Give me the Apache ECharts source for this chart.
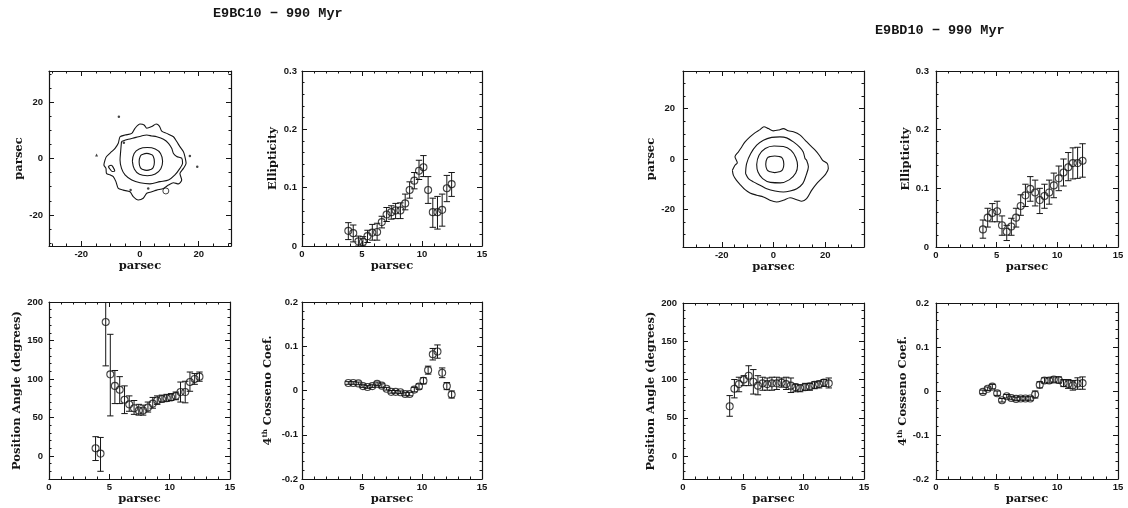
<!DOCTYPE html>
<html><head><meta charset="utf-8">
<script src="https://cdn.jsdelivr.net/npm/echarts@6/dist/echarts.min.js"></script>
<style>html,body{margin:0;padding:0;background:#fff}#c{width:1128px;height:508px}</style>
</head><body><div id="c"></div>
<script>
// ---------------- titles ----------------
const titleL = 'E9BC10 \u2212 990 Myr';
const titleR = 'E9BD10 \u2212 990 Myr';

// ---------------- tick labels ----------------
const contourTicks = [-20, 0, 20];
const radiusTicks = [0, 5, 10, 15];
const ellTicks = [0, 0.1, 0.2, 0.3];
const paTicks = [0, 50, 100, 150, 200];
const cosTicks = [-0.2, -0.1, 0, 0.1, 0.2];

// ---------------- isophote radii (parsec) ----------------
const radiusL = [3.86,4.27,4.70,5.08,5.46,5.86,6.26,6.65,7.05,7.44,7.80,8.20,8.60,8.97,9.36,9.75,10.12,10.51,10.90,11.29,11.68,12.07,12.47];
const radiusR = [3.87,4.26,4.64,5.04,5.44,5.83,6.21,6.60,6.98,7.37,7.77,8.17,8.55,8.94,9.33,9.71,10.12,10.51,10.90,11.28,11.67,12.08];

// ---------------- E9BC10 ----------------
const ellL = [0.026,0.022,0.008,0.007,0.017,0.023,0.024,0.041,0.054,0.058,0.061,0.061,0.073,0.096,0.112,0.129,0.135,0.096,0.058,0.058,0.062,0.099,0.106];
const ellLHi = [0.040,0.036,0.017,0.016,0.027,0.037,0.039,0.051,0.066,0.069,0.073,0.074,0.089,0.110,0.126,0.147,0.155,0.119,0.082,0.085,0.089,0.121,0.126];
const ellLLo = [0.011,0.007,0.000,0.000,0.006,0.010,0.010,0.031,0.042,0.046,0.047,0.047,0.062,0.082,0.098,0.114,0.119,0.073,0.032,0.029,0.034,0.076,0.085];

const paL = [10,3,174,106,91,86,73,67,62,59,59,63,68,72,74,75,76,78,83,83,96,100,103];
const paLHi = [25,24,231,158,111,103,91,78,72,67,66,70,76,78,79,80,81,83,96,97,109,107,109];
const paLLo = [-6,-20,117,52,68,68,55,58,54,53,53,57,62,67,70,71,72,73,70,69,84,93,97];

const cosL = [0.017,0.017,0.016,0.010,0.008,0.010,0.015,0.011,0.004,-0.003,-0.003,-0.004,-0.008,-0.008,0.002,0.009,0.022,0.046,0.082,0.088,0.040,0.010,-0.009];
const cosLErr = [0.003,0.003,0.003,0.003,0.003,0.003,0.004,0.004,0.003,0.003,0.003,0.003,0.004,0.004,0.005,0.006,0.007,0.009,0.013,0.015,0.011,0.008,0.008];

// ---------------- E9BD10 ----------------
const ellR = [0.030,0.050,0.058,0.061,0.037,0.026,0.035,0.050,0.070,0.088,0.099,0.093,0.080,0.087,0.093,0.105,0.117,0.127,0.136,0.143,0.143,0.147];
const ellRHi = [0.046,0.066,0.074,0.078,0.053,0.037,0.049,0.066,0.089,0.107,0.120,0.114,0.100,0.107,0.114,0.126,0.138,0.150,0.161,0.169,0.170,0.176];
const ellRLo = [0.015,0.034,0.043,0.043,0.020,0.011,0.020,0.034,0.054,0.069,0.078,0.070,0.057,0.066,0.073,0.084,0.096,0.104,0.113,0.116,0.117,0.119];

const paR = [65,88,94,100,105,97,92,95,94,95,95,96,94,92,90,89,90,91,93,94,96,95];
const paRHi = [79,100,103,105,118,113,105,103,102,103,103,102,103,102,94,93,95,95,97,98,100,102];
const paRLo = [52,76,84,92,92,81,80,86,86,86,87,90,87,83,84,84,86,86,88,89,91,89];

const cosR = [-0.002,0.005,0.010,-0.005,-0.021,-0.012,-0.016,-0.018,-0.017,-0.017,-0.017,-0.008,0.014,0.024,0.024,0.026,0.025,0.018,0.016,0.013,0.017,0.018];
const cosRErr = [0.004,0.004,0.005,0.005,0.004,0.004,0.004,0.004,0.004,0.004,0.004,0.008,0.007,0.006,0.006,0.006,0.007,0.008,0.010,0.011,0.013,0.014];

// ---------------- contours (parsec) ----------------
const contourL1 = [[-0.3,-1.2],[0.1,0.8],[1.0,1.5],[2.3,1.8],[3.6,1.5],[4.5,0.8],[4.9,-1.2],[4.5,-3.2],[3.6,-3.9],[2.3,-4.2],[1.0,-3.9],[0.1,-3.2],[-0.3,-1.2]];
const contourL2 = [[-2.6,-1.0],[-2.0,1.8],[-0.3,3.4],[2.5,3.9],[5.2,3.4],[7.0,1.8],[7.7,-1.0],[7.1,-3.6],[5.2,-5.5],[2.5,-6.1],[-0.2,-5.6],[-1.9,-3.8],[-2.6,-1.0]];
const contourL3 = [[-6.3,6.0],[-4.0,6.8],[-1.7,7.4],[0.5,8.0],[2.3,8.3],[4.0,8.0],[5.7,7.7],[8.0,6.8],[9.7,5.4],[10.8,3.6],[11.4,1.8],[12.5,0.7],[14.2,0.1],[14.5,-1.7],[13.6,-3.5],[11.9,-5.8],[9.7,-7.6],[6.8,-8.2],[3.4,-9.0],[0.0,-8.6],[-2.8,-7.6],[-5.1,-5.8],[-6.3,-3.5],[-6.8,-0.5],[-6.6,2.4],[-6.3,6.0]];
const contourL4 = [[-11.9,-0.5],[-11.4,0.7],[-9.7,2.4],[-8.5,3.6],[-7.4,5.4],[-6.8,7.7],[-5.1,8.3],[-2.8,8.9],[-1.7,10.7],[0.0,12.2],[1.4,11.9],[2.3,10.7],[4.0,11.3],[5.5,12.2],[6.6,11.5],[7.4,9.7],[9.1,8.9],[11.4,7.7],[12.5,6.0],[13.6,4.2],[14.8,2.4],[15.3,0.7],[15.7,-1.7],[14.8,-3.5],[13.6,-5.3],[14.2,-7.6],[13.1,-9.0],[11.4,-8.6],[9.7,-9.4],[8.0,-10.6],[5.7,-11.2],[4.0,-11.8],[2.3,-12.3],[1.1,-14.1],[-0.6,-14.7],[-2.3,-13.5],[-3.4,-11.8],[-5.7,-11.2],[-7.4,-10.6],[-8.2,-8.2],[-9.1,-6.4],[-10.2,-5.8],[-11.4,-5.3],[-11.6,-3.5],[-12.3,-2.3],[-11.9,-0.5]];
const contourL5 = [[-10.8,-2.8],[-9.8,-2.4],[-9.0,-3.4],[-8.6,-4.4],[-9.4,-4.6],[-10.2,-3.8],[-10.8,-2.8]];
const blobsL = [[17.0,0.9],[19.5,-2.9],[-5.5,5.6],[2.8,-10.6],[-3.2,-11.2],[-7.2,14.8]];
const knotL = [[8.8,-11.5]];
const starL = [[-14.8,1.2]];

const contourR1 = [[-3.0,-2.1],[-2.5,0.2],[-1.2,1.0],[0.5,1.2],[2.2,1.0],[3.5,0.2],[4.0,-2.1],[3.5,-4.3],[2.2,-5.1],[0.5,-5.4],[-1.2,-5.1],[-2.5,-4.3],[-3.0,-2.1]];
const contourR2 = [[-6.5,-2.2],[-5.6,1.5],[-3.2,4.2],[0.2,5.2],[3.8,5.0],[6.8,3.4],[8.7,0.3],[9.3,-2.6],[8.6,-5.6],[6.2,-8.2],[2.6,-9.5],[-1.2,-9.3],[-4.2,-7.8],[-6.0,-5.2],[-6.5,-2.2]];
const contourR3 = [[-10.8,-5.8],[-10.4,-1.8],[-8.8,2.2],[-6.5,5.5],[-3.9,7.5],[-0.7,8.6],[2.5,8.8],[5.1,8.4],[7.7,6.8],[10.0,4.8],[11.5,2.8],[12.2,0.2],[12.8,-0.5],[13.5,-3.1],[12.6,-6.5],[11.3,-9.8],[9.0,-11.8],[6.4,-12.7],[3.8,-13.1],[0.6,-12.7],[-2.6,-11.8],[-5.2,-10.4],[-7.8,-9.1],[-9.7,-7.8],[-10.8,-5.8]];
const contourR4 = [[-15.9,-4.5],[-14.9,-2.5],[-14.0,-1.5],[-14.9,0.9],[-13.6,2.8],[-12.3,4.8],[-11.0,6.8],[-9.1,8.8],[-7.2,10.4],[-5.2,11.7],[-3.7,12.8],[-2.0,12.1],[-0.1,11.2],[1.9,11.5],[3.8,12.1],[5.7,11.2],[7.7,10.8],[10.3,9.5],[12.2,7.5],[14.1,5.5],[16.1,3.5],[17.7,1.5],[19.0,-0.5],[20.8,-1.8],[21.2,-3.8],[20.3,-5.8],[18.6,-7.8],[16.7,-9.8],[14.8,-12.4],[12.8,-15.8],[10.9,-16.8],[9.0,-16.2],[6.4,-15.4],[3.8,-16.4],[1.2,-17.1],[-1.4,-16.4],[-3.9,-15.1],[-6.5,-14.4],[-9.1,-13.5],[-11.0,-12.2],[-12.7,-10.4],[-14.3,-8.5],[-15.5,-6.5],[-15.9,-4.5]];

// ---------------- build ----------------
const INK = '#151515';
const tickFont = {fontFamily:'Liberation Sans', fontWeight:'bold', fontSize:9.5, color:INK};
const nameFont = {fontFamily:'DejaVu Serif', fontWeight:'bold', fontSize:11.5, color:INK};

function stepTicks(a, b, s) {
  const out = [];
  for (let k = Math.ceil(a / s - 1e-9); k * s <= b + 1e-9; k++) out.push(+(k * s).toFixed(6));
  return out;
}

// panel layout
const panels = [
  {left:49,  top:71,  w:182, h:175, x:[-31,31], y:[-31,31], xt:contourTicks, yt:contourTicks, xs:5, ys:5, yname:'parsec', ygap:24, ylm:6},
  {left:302, top:71,  w:180, h:175, x:[0,15], y:[0,0.3], xt:radiusTicks, yt:ellTicks, xs:1, ys:0.02, yname:'Ellipticity', ygap:23, ylm:5},
  {left:49,  top:302, w:181, h:177, x:[0,15], y:[-30,200], xt:radiusTicks, yt:paTicks, xs:1, ys:10, yname:'Position Angle (degrees)', ygap:24, ylm:6},
  {left:302, top:302, w:180, h:177, x:[0,15], y:[-0.2,0.2], xt:radiusTicks, yt:cosTicks, xs:1, ys:0.02, yname:'{a|4}{b|th}{a| Cosseno Coef.}', ygap:28, ylm:4},
  {left:683, top:71,  w:181, h:176, x:[-35,35], y:[-35,35], xt:contourTicks, yt:contourTicks, xs:5, ys:5, yname:'parsec', ygap:26, ylm:8},
  {left:936, top:71,  w:182, h:176, x:[0,15], y:[0,0.3], xt:radiusTicks, yt:ellTicks, xs:1, ys:0.02, yname:'Ellipticity', ygap:24, ylm:7},
  {left:683, top:303, w:181, h:176, x:[0,15], y:[-30,200], xt:radiusTicks, yt:paTicks, xs:1, ys:10, yname:'Position Angle (degrees)', ygap:25, ylm:6},
  {left:936, top:303, w:182, h:176, x:[0,15], y:[-0.2,0.2], xt:radiusTicks, yt:cosTicks, xs:1, ys:0.02, yname:'{a|4}{b|th}{a| Cosseno Coef.}', ygap:23, ylm:7}
];

const grids = [], xAxis = [], yAxis = [];
panels.forEach((p, gi) => {
  grids.push({left:p.left, top:p.top, width:p.w, height:p.h, containLabel:false, outerBoundsMode:'none'});
  const lineOn = {show:true, onZero:false, lineStyle:{color:INK, width:1.2}};
  const lineOff = {show:false, onZero:false};
  const major = vals => ({show:true, inside:true, length:5, customValues:vals, lineStyle:{color:INK, width:1}});
  const minor = vals => ({show:true, inside:true, length:2.5, customValues:vals, lineStyle:{color:INK, width:1}});
  const xm = stepTicks(p.x[0], p.x[1], p.xs), ym = stepTicks(p.y[0], p.y[1], p.ys);
  const bx = {type:'value', gridIndex:gi, min:p.x[0], max:p.x[1], splitLine:{show:false}};
  const by = {type:'value', gridIndex:gi, min:p.y[0], max:p.y[1], splitLine:{show:false}};
  xAxis.push(
    Object.assign({}, bx, {position:'bottom', axisLine:lineOn, axisTick:major(p.xt),
      axisLabel:Object.assign({show:true, customValues:p.xt, margin:3}, tickFont),
      name:'parsec', nameLocation:'middle', nameGap:13, nameTextStyle:nameFont}),
    Object.assign({}, bx, {position:'bottom', axisLine:lineOff, axisTick:minor(xm), axisLabel:{show:false}}),
    Object.assign({}, bx, {position:'top', axisLine:lineOn, axisTick:major(p.xt), axisLabel:{show:false}}),
    Object.assign({}, bx, {position:'top', axisLine:lineOff, axisTick:minor(xm), axisLabel:{show:false}})
  );
  yAxis.push(
    Object.assign({}, by, {position:'left', axisLine:lineOn, axisTick:major(p.yt),
      axisLabel:Object.assign({show:true, customValues:p.yt, margin:p.ylm}, tickFont),
      name:p.yname, nameLocation:'middle', nameGap:p.ygap,
      nameTextStyle:Object.assign({}, nameFont, {rich:{
        a:{fontFamily:'DejaVu Serif', fontWeight:'bold', fontSize:11.5, color:INK},
        b:{fontFamily:'DejaVu Serif', fontWeight:'bold', fontSize:7, color:INK, verticalAlign:'top'}}})}),
    Object.assign({}, by, {position:'left', axisLine:lineOff, axisTick:minor(ym), axisLabel:{show:false}}),
    Object.assign({}, by, {position:'right', axisLine:lineOn, axisTick:major(p.yt), axisLabel:{show:false}}),
    Object.assign({}, by, {position:'right', axisLine:lineOff, axisTick:minor(ym), axisLabel:{show:false}})
  );
});

const series = [];
function contour(gi, pts, smooth) {
  series.push({type:'line', xAxisIndex:gi*4, yAxisIndex:gi*4, data:pts, showSymbol:false, symbol:'none',
    smooth:smooth, lineStyle:{color:INK, width:1.1}, silent:true, z:3});
}
function errRender(params, api) {
  const cs = params.coordSys;
  const x = api.value(0), lo = api.value(2), hi = api.value(3);
  const pLo = api.coord([x, lo]), pHi = api.coord([x, hi]);
  const yTop = Math.max(pHi[1], cs.y), yBot = Math.min(pLo[1], cs.y + cs.height);
  const st = {stroke:INK, lineWidth:1};
  const ch = [{type:'line', shape:{x1:pLo[0], y1:yTop, x2:pLo[0], y2:yBot}, style:st}];
  const cw = 3.2;
  if (pHi[1] >= cs.y) ch.push({type:'line', shape:{x1:pHi[0]-cw, y1:pHi[1], x2:pHi[0]+cw, y2:pHi[1]}, style:st});
  if (pLo[1] <= cs.y + cs.height) ch.push({type:'line', shape:{x1:pLo[0]-cw, y1:pLo[1], x2:pLo[0]+cw, y2:pLo[1]}, style:st});
  return {type:'group', children:ch};
}
function profile(gi, xs, ys, los, his) {
  series.push({type:'custom', xAxisIndex:gi*4, yAxisIndex:gi*4, renderItem:errRender, silent:true, z:2,
    data:xs.map((x, i) => [x, ys[i], los[i], his[i]])});
  series.push({type:'scatter', xAxisIndex:gi*4, yAxisIndex:gi*4, symbol:'circle', symbolSize:7, silent:true, z:4,
    itemStyle:{color:'rgba(0,0,0,0)', borderColor:INK, borderWidth:1.1},
    data:xs.map((x, i) => [x, ys[i]])});
}

// E9BC10 contour panel
contour(0, contourL1, 0.5); contour(0, contourL2, 0.4); contour(0, contourL3, 0.3); contour(0, contourL4, 0.25); contour(0, contourL5, 0.4);
series.push({type:'scatter', xAxisIndex:0, yAxisIndex:0, symbol:'circle', symbolSize:2.5, data:blobsL, itemStyle:{color:INK}, silent:true});
series.push({type:'scatter', xAxisIndex:0, yAxisIndex:0, symbol:'circle', symbolSize:6, data:knotL, itemStyle:{color:'rgba(0,0,0,0)', borderColor:INK, borderWidth:1}, silent:true});
series.push({type:'scatter', xAxisIndex:0, yAxisIndex:0, symbol:'triangle', symbolSize:3, data:starL, itemStyle:{color:INK}, silent:true});
profile(1, radiusL, ellL, ellLLo, ellLHi);
profile(2, radiusL, paL, paLLo, paLHi);
profile(3, radiusL, cosL, cosL.map((v, i) => v - cosLErr[i]), cosL.map((v, i) => v + cosLErr[i]));

// E9BD10
contour(4, contourR1, 0.5); contour(4, contourR2, 0.45); contour(4, contourR3, 0.3); contour(4, contourR4, 0.3);
profile(5, radiusR, ellR, ellRLo, ellRHi);
profile(6, radiusR, paR, paRLo, paRHi);
profile(7, radiusR, cosR, cosR.map((v, i) => v - cosRErr[i]), cosR.map((v, i) => v + cosRErr[i]));

const titleStyle = {fontFamily:'Liberation Mono', fontWeight:'bold', fontSize:13.5, color:INK};
const chart = echarts.init(document.getElementById('c'), null, {renderer:'canvas'});
chart.setOption({
  animation:false,
  backgroundColor:'#fff',
  title:[
    {text:titleL, left:213, top:7, padding:0, textStyle:titleStyle},
    {text:titleR, left:875, top:24, padding:0, textStyle:titleStyle}
  ],
  grid:grids, xAxis:xAxis, yAxis:yAxis, series:series
});
</script></body></html>
